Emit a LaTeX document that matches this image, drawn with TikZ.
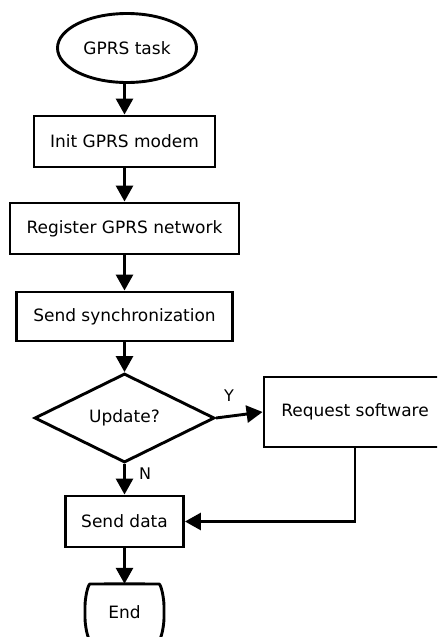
\documentclass[tikz,border=0pt]{standalone}
\usepackage{fontspec}
\setmainfont{DejaVu Sans}
\usetikzlibrary{shapes.geometric,arrows.meta}
\begin{document}
\begin{tikzpicture}[x=1pt,y=-1pt,
  every node/.style={font=\fontsize{17}{20}\selectfont, inner sep=0pt},
  box/.style={draw, line width=2.9pt, rectangle},
  arr/.style={line width=2.9pt, -{Triangle[length=16pt,width=17pt]}},
  lbl/.style={font=\fontsize{16}{19}\selectfont}]
\useasboundingbox (0,0) rectangle (437,637);
\clip (0,0) rectangle (437,637);
\fill[white] (0,0) rectangle (437,637);
\node[draw, ellipse, line width=2.9pt, minimum width=139pt, minimum height=69pt] (task) at (127,48) {GPRS task};
\node[box, minimum width=181pt, minimum height=51pt] (init) at (124.5,141.5) {Init GPRS modem};
\node[box, minimum width=229pt, minimum height=51pt] (reg) at (124.5,228.5) {Register GPRS network};
\node[box, minimum width=216pt, minimum height=49pt] (sync) at (124.5,316.5) {Send synchronization};
\node[draw, diamond, line width=2.9pt, minimum width=180pt, minimum height=89pt] (dia) at (124.5,418) {Update?};
\node[box, minimum width=182pt, minimum height=70pt] (req) at (355,412) {Request software};
\node[box, minimum width=118pt, minimum height=51pt] (data) at (124.5,521.5) {Send data};
\node[minimum width=81pt, minimum height=56pt] (end) at (124.5,612) {End};
\draw[line width=2.9pt, rounded corners=6pt]
  (end.north) -- (153,584) .. controls (161,584) and (164,598) .. (164,612)
  .. controls (164,626) and (161,640) .. (153,640) -- (96,640)
  .. controls (88,640) and (85,626) .. (85,612)
  .. controls (85,598) and (88,584) .. (96,584) -- (end.north);
\draw[arr] (task.south -| init.north) -- (init.north);
\draw[arr] (init) -- (reg);
\draw[arr] (reg) -- (sync);
\draw[arr] (sync) -- (dia);
\draw[arr] (dia.east) -- (req.west);
\draw[arr] (dia) -- (data);
\draw[arr] (data) -- (end.north);
\draw[arr] (req.south) |- (data.east);
\node[lbl] (ylbl) at (229,396) {Y};
\node[lbl] (nlbl) at (145,474) {N};
\end{tikzpicture}
\end{document}
